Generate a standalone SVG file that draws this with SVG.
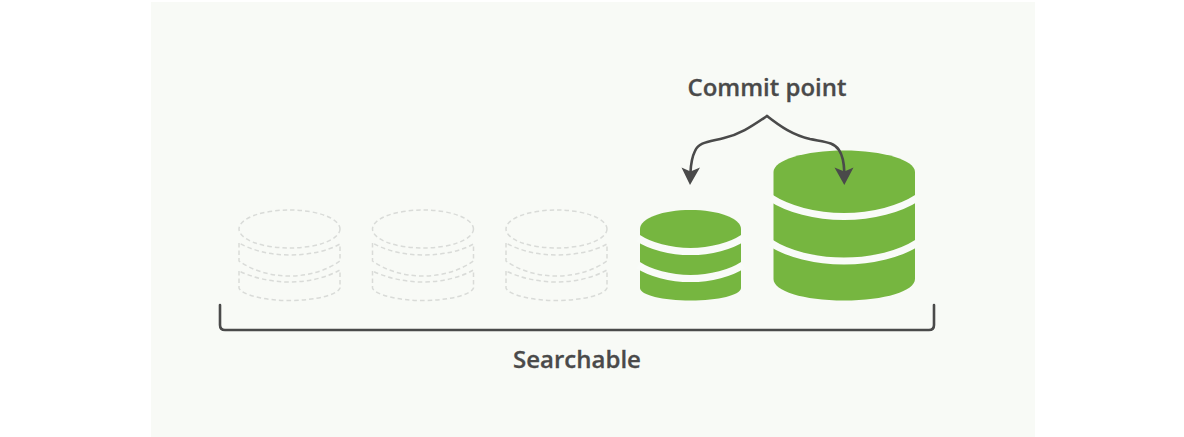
<svg xmlns="http://www.w3.org/2000/svg" width="1184" height="437" viewBox="0 0 1184 437">
<style>
.lbl{font-family:"Open Sans","Noto Sans",sans-serif;font-weight:600;font-size:24px;fill:#4a4a4a;text-anchor:middle;stroke:#4a4a4a;stroke-width:0.3}
.g{fill:#76b640}
.b{fill:none;stroke:#f9fbf8;stroke-width:7}
.d{fill:none;stroke:#d9dbd8;stroke-width:1.5;stroke-dasharray:4.500 3}
.c{fill:none;stroke:#4a4a4a;stroke-width:2.600;stroke-linecap:round;stroke-linejoin:round}
.h{fill:#4a4a4a}
</style>
<defs>
<g id="ghost">
<ellipse class="d" cx="0" cy="229" rx="50.500" ry="19"/>
<path class="d" d="M-50.500 243V261C-38 270-20 276 0 276S38 270 50.500 261V244C38 251 20 255 0 255S-38 250-50.500 243Z"/>
<path class="d" d="M-50.500 271V288C-48 295-25 300.500 0 300.500S48 295 50.500 288V270C38 277 20 282 0 282S-38 277-50.500 271Z"/>
</g>
</defs>
<rect x="151" y="2" width="884" height="435" fill="#f8faf6"/>
<g id="segment-1"><use href="#ghost" x="289.500"/></g>
<g id="segment-2"><use href="#ghost" x="423"/></g>
<g id="segment-3"><use href="#ghost" x="556.500"/></g>
<g id="segment-4">
<path class="g" d="M640 229C640 218 663 210 690.500 210S741 218 741 229V288C741 295 718 300.500 690.500 300.500S640 295 640 288Z"/>
<path class="b" d="M638 238C650 246 670 251.500 690.500 251.500S731 246 743 238"/>
<path class="b" d="M638 265C650 273 670 278.500 690.500 278.500S731 273 743 265"/>
</g>
<g id="segment-5">
<path class="g" d="M773.500 172C773.500 160 805 150.500 844 150.500S915 160 915 172V279C915 291 885 300.500 844 300.500S773.500 291 773.500 279Z"/>
<path class="b" d="M771 198C788 209 815 216.500 844 216.500S900 209 917 198"/>
<path class="b" d="M771 243C788 254 815 261 844 261S900 254 917 243"/>
</g>
<g id="connectors">
<path class="c" d="M767 116C752 126 741 134 724 138C708 142 699 142 695 151C692 157 691 163 690.500 172"/>
<path class="h" d="M690 185L681.500 167.500L690.500 171.500L700 167.500Z"/>
<path class="c" d="M767 116C781 127 793 135 810 139C825 142 834 142 839 150C843 156 844 163 844.300 172"/>
<path class="h" d="M844.300 185L834.500 167.500L844.300 171.500L853.500 167.500Z"/>
<path class="c" d="M220 305V325Q220 330 225 330H929Q934 330 934 325V305"/>
</g>
<text class="lbl" x="767" y="96">Commit point</text>
<text class="lbl" x="577" y="368">Searchable</text>
</svg>
